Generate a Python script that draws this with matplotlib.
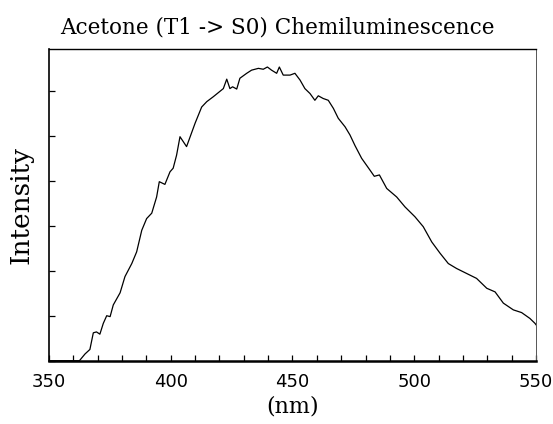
import matplotlib
matplotlib.use("Agg")
import matplotlib.pyplot as plt
from matplotlib.ticker import MultipleLocator, NullFormatter

wavelength = [350, 362.5, 364.8, 366.8, 368.2, 369.5, 370.9, 372.3, 373.7, 375.1, 376.4,
              379.2, 381.2, 384.0, 386.0, 388.1, 390.1, 392.2, 394.2, 395.3, 397.6,
              399.7, 401.0, 402.4, 403.8, 406.5, 410.0, 412.7, 414.8, 417.5, 421.6,
              423.0, 424.3, 425.4, 427.1, 428.4, 431.2, 433.2, 436.0, 438.0, 439.7,
              441.4, 443.5, 444.6, 446.2, 449.0, 451.0, 453.1, 455.1, 457.2, 459.2,
              460.6, 462.6, 464.7, 466.8, 468.8, 471.6, 473.6, 475.7, 478.4, 481.8,
              483.6, 485.7, 488.7, 492.8, 496.2, 500.3, 503.7, 507.2, 510.6, 514.0,
              517.4, 521.5, 525.6, 529.8, 533.2, 536.6, 540.7, 544.1, 547.5, 549.6, 550]
intensity = [0.0, 0.0, 0.15, 0.25, 0.62, 0.64, 0.59, 0.83, 1.00, 0.98, 1.24,
             1.51, 1.87, 2.16, 2.42, 2.90, 3.16, 3.28, 3.64, 3.98, 3.92,
             4.20, 4.28, 4.57, 4.98, 4.76, 5.28, 5.64, 5.76, 5.87, 6.05,
             6.26, 6.05, 6.09, 6.04, 6.28, 6.39, 6.46, 6.50, 6.48, 6.53,
             6.46, 6.39, 6.53, 6.35, 6.35, 6.39, 6.24, 6.05, 5.94, 5.79,
             5.89, 5.83, 5.79, 5.61, 5.39, 5.20, 5.02, 4.78, 4.50, 4.24,
             4.10, 4.13, 3.83, 3.64, 3.42, 3.20, 2.98, 2.64, 2.39, 2.16,
             2.05, 1.94, 1.83, 1.61, 1.53, 1.28, 1.13, 1.07, 0.94, 0.83, 0.80]

x_ticks = [350, 400, 450, 500, 550]

fig = plt.figure(figsize=(5.53, 4.24), dpi=100)
ax = fig.add_axes([0.0886, 0.1493, 0.8806, 0.7351])
ax.plot(wavelength, intensity, color="black", linewidth=0.9)
ax.set_xlim(350, 550)
ax.set_ylim(0, 6.93)
ax.set_xticks(x_ticks)
ax.set_xticklabels([str(t) for t in x_ticks], fontsize=13, family="DejaVu Sans")
ax.xaxis.set_minor_locator(MultipleLocator(10))
ax.yaxis.set_major_locator(MultipleLocator(1))
ax.yaxis.set_major_formatter(NullFormatter())
ax.tick_params(axis="both", which="both", direction="in", length=4, width=0.9,
               top=False, right=False)
ax.tick_params(axis="x", pad=9)
ax.spines["top"].set_linewidth(1.0)
ax.spines["right"].set_linewidth(0.7)
ax.spines["right"].set_color("#555555")
ax.spines["bottom"].set_linewidth(1.8)
ax.spines["left"].set_linewidth(1.2)

ax.set_title("Acetone (T1 -> S0) Chemiluminescence", family="DejaVu Serif",
             fontsize=15.5, pad=11, x=0.47)
ax.set_xlabel("(nm)", family="DejaVu Serif", fontsize=16, labelpad=3)
ax.set_ylabel("Intensity", family="DejaVu Serif", fontsize=19, labelpad=8)

fig.savefig("out.png", dpi=100)
